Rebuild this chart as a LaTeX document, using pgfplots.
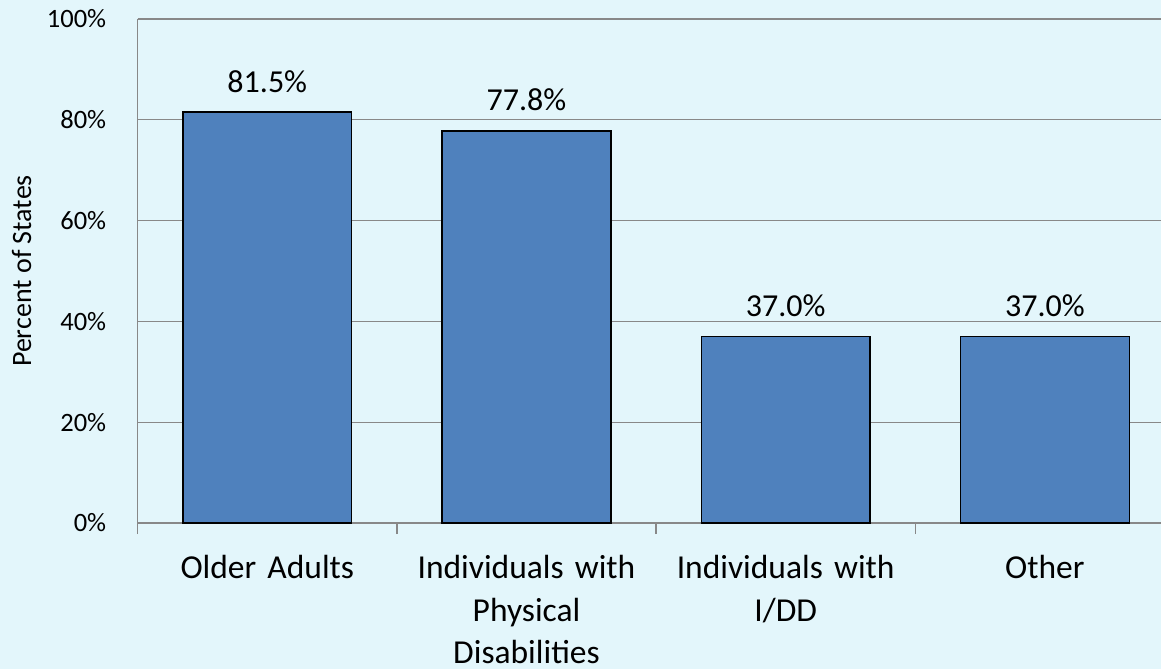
\documentclass[border=0pt]{standalone}
\usepackage{fontspec}
\setmainfont{Carlito}
\usepackage{pgfplots}
\pgfplotsset{compat=1.18}

\definecolor{bg}{RGB}{227,246,251}
\definecolor{barblue}{RGB}{79,129,189}
\definecolor{gridgray}{RGB}{136,136,136}

\begin{document}
\begin{tikzpicture}[x=1pt,y=1pt]
  % page background
  \fill[bg] (0,0) rectangle (1161,669);
  \useasboundingbox (0,0) rectangle (1161,669);
  \begin{axis}[
    at={(137.7pt,146pt)}, anchor=south west,
    scale only axis,
    width=1023.3pt, height=504pt,
    xmin=-0.5, xmax=3.448,
    ymin=0, ymax=100,
    /pgf/number format/assume math mode=true,
    axis x line=bottom, axis y line=left,
    axis line style={-, draw=gridgray, line width=1.3pt},
    ymajorgrids,
    grid style={draw=gridgray, line width=1.3pt},
    ytick={0,20,40,60,80,100},
    yticklabel={\pgfmathprintnumber{\tick}\%},
    ytick style={draw=none},
    yticklabel style={font=\fontsize{26.5}{31}\selectfont, xshift=-17pt},
    % category boundaries carry the tick marks
    xtick={-0.5,0.5,1.5,2.5},
    xticklabels={},
    tick align=outside,
    major tick length=11pt,
    xtick style={draw=gridgray, line width=1.3pt},
    % category names sit at the bar centres, without marks
    extra x ticks={0,1,2,3},
    extra x tick labels={Older Adults, Individuals with\\Physical\\Disabilities, Individuals with\\I/DD, Other},
    extra x tick style={major tick length=0pt, grid=none,
      xticklabel style={font=\fontsize{33.5}{42.5}\selectfont, align=center, text width=255pt, yshift=-29pt}},
    every axis y label/.style={at={([xshift=-116pt]rel axis cs:0,0.5)}, rotate=90, anchor=center,
      font=\fontsize{28}{34}\selectfont},
    ylabel={Percent of States},
    ybar, bar width=168.7pt,
    nodes near coords={\pgfmathprintnumber[fixed,fixed zerofill,precision=1]{\pgfplotspointmeta}\%},
    nodes near coords style={font=\fontsize{32}{38}\selectfont, anchor=base, yshift=20pt, text=black},
  ]
    \addplot[fill=barblue, draw=black, line width=1.5pt] coordinates {
      (0,81.5) (1,77.8) (2,37.0) (3,37.0)
    };
  \end{axis}
\end{tikzpicture}
\end{document}
